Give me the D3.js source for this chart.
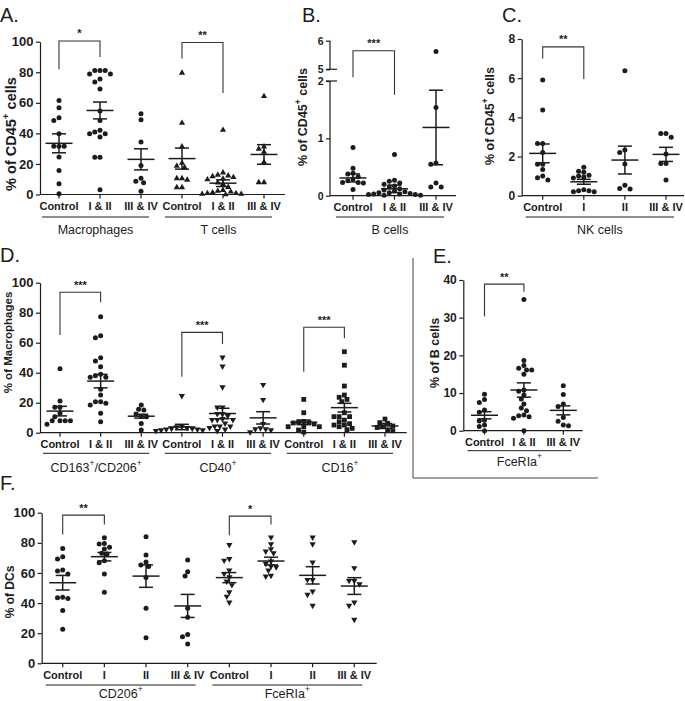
<!DOCTYPE html>
<html><head><meta charset="utf-8">
<script src="https://cdn.jsdelivr.net/npm/d3@7"></script>
<style>
body{margin:0;background:#fff;}
svg{display:block;font-family:"Liberation Sans",Arial,Helvetica,sans-serif;}
</style></head><body>
<svg id="c" width="685" height="701"></svg>
<script>
// ---------------- DATA ----------------
const stageAB = ["Control", "I & II", "III & IV"];
const stageCF = ["Control", "I", "II", "III & IV"];

// Panel A
const aGroups = ["Macrophages", "T cells"];
const aTicks = [0, 20, 40, 60, 80, 100];
const aMacroValues = [
  [61.6, 56.8, 50.3, 48.5, 39.8, 31.5, 31.5, 31.5, 24.5, 15.7, 7, 0.5],
  [81.1, 81.1, 81.1, 78.9, 78.9, 75.6, 73.7, 69.1, 54.6, 48.5, 42, 40.9, 39.8, 39.8, 37.6, 24.3, 24.3, 3.1],
  [52.9, 49, 34.3, 19, 10.7, 8.7, 7.7, 2.2]
];
const aMacroMean = [33.5, 55, 23];
const aMacroSem = [6.2, 5.5, 6.9];
const aTValues = [
  [79.8, 47, 31.5, 20.8, 18.8, 17.9, 10.7, 10.7, 9.8, 4.8, 4.8],
  [42.4, 14.5, 13, 12.5, 12, 11.5, 10.5, 10, 8, 7, 5, 3, 2.5, 2, 1.5, 1, 1, 0.5, 0.5, 0.2],
  [64.5, 31.5, 30, 28, 21.4, 8.1, 8.1]
];
const aTMean = [23.5, 7.4, 26.2];
const aTSem = [6.9, 2.2, 6.4];
const aBrackets = [
  {from: 0, to: 1, top: 100.5, left: 82, right: 90, label: "*"},
  {from: 3, to: 4, top: 99.5, left: 89, right: 66.5, label: "**"}
];

// Panel B
const bGroup = "B cells";
const bTicks = [0, 1, 2, 5, 6];
const bValues = [
  [0.84, 0.48, 0.39, 0.38, 0.33, 0.29, 0.26, 0.23, 0.23, 0.22, 0.11],
  [0.72, 0.27, 0.25, 0.22, 0.2, 0.17, 0.15, 0.12, 0.1, 0.08, 0.07, 0.05, 0.05, 0.04, 0.03, 0.03, 0.02, 0.02, 0.01, 0.01],
  [5.62, 1.54, 0.57, 0.55, 0.22, 0.15, 0.15]
];
const bMean = [0.31, 0.12, 1.19];
const bSem = [0.07, 0.065, 0.65];
const bBrackets = [{from: 0, to: 1, top: 5.65, left: 2.95, right: 1.76, label: "***"}];

// Panel C
const cGroup = "NK cells";
const cTicks = [0, 2, 4, 6, 8];
const cValues = [
  [5.91, 4.37, 2.67, 2.67, 2.2, 1.6, 1.6, 1.34, 1.0, 0.92, 0.8],
  [1.45, 1.25, 1.2, 1.05, 1.0, 0.95, 0.9, 0.3, 0.25, 0.25, 0.2, 0.2],
  [6.38, 2.33, 2.2, 1.62, 0.53, 0.37, 0.34],
  [3.18, 3.18, 2.98, 2.13, 1.65, 1.65, 0.8]
];
const cMean = [2.16, 0.71, 1.82, 2.11];
const cSem = [0.48, 0.125, 0.71, 0.36];
const cBrackets = [{from: 0, to: 1, top: 7.6, left: 7.0, right: 5.96, label: "**"}];

// Panel D
const dGroups = ["CD163^+/CD206^+", "CD40^+", "CD16^+"];
const dTicks = [0, 20, 40, 60, 80, 100];
const dCD163Values = [
  [42.7, 21.1, 16.9, 16.9, 12.9, 10.7, 8, 8, 8, 8, 5.6],
  [77.3, 64.7, 63.3, 50, 47.8, 44, 39, 38, 37, 36.9, 28.9, 25.1, 20.7, 20.7, 19.6, 18.4, 12.9, 7.3],
  [18.4, 15.6, 15.1, 12.5, 11, 10.7, 6.2, 1.8]
];
const dCD163Mean = [14.4, 34.4, 11];
const dCD163Sem = [3.2, 4.5, 1.3];
const dCD40Values = [
  [24.4, 4, 3.5, 3, 2.5, 2.5, 2, 2, 1.5, 1.5, 1],
  [50, 44, 30.2, 16.7, 16.7, 12.4, 12.4, 11, 9, 8.4, 8.4, 8.4, 6, 4, 4, 4, 3, 2, 1],
  [31.8, 21.8, 5.8, 2.9, 2.2, 2.2, 1.5, 0.2]
];
const dCD40Mean = [3.8, 12.8, 9.9];
const dCD40Sem = [1.8, 3.5, 4.1];
const dCD16Values = [
  [22.2, 13.3, 7.5, 7, 6.7, 6.5, 5.8, 4, 4, 4, 1.8, 0.4],
  [54, 45, 31.1, 25.1, 23.6, 22.2, 20.7, 13.3, 10.7, 10.7, 10.7, 8.4, 7.3, 6, 5.1, 5.1, 4, 2.9, 2],
  [9.1, 6.7, 6.2, 4.5, 4, 3.5, 1.8, 1.3]
];
const dCD16Mean = [6.9, 16.7, 4.5];
const dCD16Sem = [1.55, 2.9, 1.65];
const dBrackets = [
  {from: 0, to: 1, top: 93.6, left: 65.1, right: 86.9, label: "***"},
  {from: 3, to: 4, top: 66.9, left: 37.3, right: 59.1, label: "***"},
  {from: 6, to: 7, top: 70.3, left: 40.7, right: 62.9, label: "***"}
];

// Panel E
const eGroup = "FceRIa^+";
const eTicks = [0, 10, 20, 30, 40];
const eValues = [
  [9.7, 8.3, 7.5, 5.5, 4.9, 2.8, 2.6, 1.5, 1.1, 0],
  [34.8, 18.6, 17.3, 16.6, 16.1, 16.1, 15, 10.8, 10.5, 9.5, 8.4, 7.1, 6, 5.3, 4.2, 4, 3.7, 3.3, 0],
  [11.9, 9.6, 7.1, 6.4, 3.5, 2.5, 1.5, 1.3]
];
const eMean = [4.1, 10.8, 5.4];
const eSem = [0.95, 1.9, 1.2];
const eBrackets = [{from: 0, to: 1, top: 38.9, left: 30.3, right: 36.9, label: "**"}];

// Panel F
const fGroups = ["CD206^+", "FceRIa^+"];
const fTicks = [0, 20, 40, 60, 80, 100];
const fCD206Values = [
  [76.3, 70.8, 69.2, 61.9, 61.3, 59.3, 43.8, 43.6, 43.1, 35, 22.6],
  [83.4, 79.6, 79.2, 77, 75.9, 73, 72.6, 68.1, 66.8, 59.3, 47.1],
  [84.1, 71.9, 67.3, 65.3, 64.2, 56.9, 36.5, 17],
  [68.6, 60.8, 58, 36.5, 30.5, 19.2, 17.7, 12.8]
];
const fCD206Mean = [53.5, 70.8, 57.9, 38.1];
const fCD206Sem = [4.85, 2.8, 7.45, 7.65];
const fFceValues = [
  [78.5, 69.2, 68.1, 61.5, 59.3, 57, 54.2, 51.8, 47.1, 44.2, 40.3],
  [83.4, 79, 75.7, 74.1, 73, 67.5, 66, 64.2, 63.7, 61.5, 58, 57.5],
  [83.4, 79, 66.8, 55.3, 55.3, 47.6, 45.4, 38.1],
  [80.3, 63.1, 54.6, 54.6, 52.4, 40.3, 38.1, 28.8]
];
const fFceMean = [56.9, 67.9, 58.4, 51.3];
const fFceSem = [3.35, 2.55, 5.75, 5.55];
const fBrackets = [
  {from: 0, to: 1, top: 98.4, left: 85.6, right: 92.2, label: "**"},
  {from: 4, to: 5, top: 97.7, left: 85.1, right: 92.2, label: "*"}
];

// ---------------- DRAWING ----------------
const INK = "#1c1c1c";
const svg = d3.select("#c");

function rich(textSel, str, fs) {
  const parts = str.split(/(\^.)/).filter(s => s.length);
  let raised = false;
  parts.forEach(pt => {
    if (pt[0] === "^") {
      textSel.append("tspan").attr("dy", -0.42 * fs).attr("font-size", 0.68 * fs).text(pt.slice(1));
      raised = true;
    } else {
      const t = textSel.append("tspan").text(pt);
      if (raised) { t.attr("dy", 0.42 * fs); raised = false; }
    }
  });
}

function swarm(vals, y, s) {
  const pts = vals.map(v => ({v, py: y(v)})).sort((a, b) => a.py - b.py);
  const placed = [];
  pts.forEach(p => {
    for (let k = 0; k < 80; k++) {
      const off = k === 0 ? 0 : (k % 2 ? -1 : 1) * Math.ceil(k / 2) * s / 2;
      if (placed.every(q => (q.dx - off) ** 2 + (q.py - p.py) ** 2 >= (s * 0.92) ** 2)) { p.dx = off; break; }
    }
    placed.push(p);
  });
  return placed;
}

function drawMarker(g, type, x, y) {
  if (type === "circle") {
    g.append("circle").attr("cx", x).attr("cy", y).attr("r", 2.5).attr("fill", INK);
  } else if (type === "triUp") {
    g.append("path").attr("d", `M${x},${y - 3.3}L${x + 3.1},${y + 2.1}L${x - 3.1},${y + 2.1}Z`).attr("fill", INK);
  } else if (type === "triDown") {
    g.append("path").attr("d", `M${x},${y + 3.3}L${x + 3.1},${y - 2.1}L${x - 3.1},${y - 2.1}Z`).attr("fill", INK);
  } else {
    g.append("rect").attr("x", x - 2.4).attr("y", y - 2.4).attr("width", 4.8).attr("height", 4.8).attr("fill", INK);
  }
}

function drawPanel(p) {
  const g = svg.append("g");
  const slots = [];
  p.series.forEach((s, si) => s.cats.forEach((c, ci) => slots.push(si + "|" + ci)));
  const x = d3.scalePoint().domain(slots).range([p.catFirst, p.catLast]);
  const y = p.y;
  const y0 = y(0);

  // y axis
  const ya = g.append("g").attr("transform", `translate(${p.axisX},0)`)
    .call(d3.axisLeft(y).tickValues(p.ticks).tickSize(4).tickSizeOuter(0).tickPadding(2.5).tickFormat(d3.format("d")));
  ya.selectAll("line,path").attr("stroke", INK).attr("stroke-width", 1.2);
  ya.selectAll("text").attr("fill", INK).attr("font-size", p.tickFont).attr("font-weight", "bold")
    .attr("font-family", "'Liberation Sans',Arial,sans-serif");
  if (p.broken) {
    ya.select(".domain").remove();
    g.append("line").attr("x1", p.axisX).attr("x2", p.axisX).attr("y1", y(0)).attr("y2", y(p.broken[0])).attr("stroke", INK).attr("stroke-width", 1.2);
    g.append("line").attr("x1", p.axisX).attr("x2", p.axisX).attr("y1", y(p.broken[1])).attr("y2", y(p.ticks[p.ticks.length - 1])).attr("stroke", INK).attr("stroke-width", 1.2);
    p.broken.forEach(b => g.append("line").attr("x1", p.axisX - 4).attr("x2", p.axisX + 7).attr("y1", y(b)).attr("y2", y(b)).attr("stroke", INK).attr("stroke-width", 1.2));
  }

  // x axis
  g.append("line").attr("x1", p.axisX).attr("x2", p.axisEnd).attr("y1", y0).attr("y2", y0).attr("stroke", INK).attr("stroke-width", 1.2);
  p.series.forEach((s, si) => {
    s.cats.forEach((c, ci) => {
      const cx = x(si + "|" + ci);
      g.append("line").attr("x1", cx).attr("x2", cx).attr("y1", y0).attr("y2", y0 + 4).attr("stroke", INK).attr("stroke-width", 1.2);
      g.append("text").attr("x", cx).attr("y", y0 + 11.5).attr("text-anchor", "middle").attr("dominant-baseline", "central")
        .attr("font-size", 11).attr("font-weight", "bold").attr("fill", INK).text(c);
    });
    // group line and label
    const gx1 = x(si + "|0") - 17, gx2 = x(si + "|" + (s.cats.length - 1)) + 8;
    g.append("line").attr("x1", gx1).attr("x2", gx2).attr("y1", p.lineY).attr("y2", p.lineY).attr("stroke", INK).attr("stroke-width", 1);
    const t = g.append("text").attr("x", (gx1 + gx2) / 2).attr("y", p.groupY).attr("text-anchor", "middle")
      .attr("dominant-baseline", "central").attr("font-size", 12.5).attr("fill", INK);
    rich(t, s.name, 12.5);

    // points, mean, SEM
    s.values.forEach((vals, ci) => {
      const cx = x(si + "|" + ci);
      swarm(vals, y, 5.2).forEach(pt => drawMarker(g, s.marker, cx + pt.dx, pt.py));
      const m = s.mean[ci], e = s.sem[ci];
      const L = (x1, x2, y1, y2) => g.append("line").attr("x1", x1).attr("x2", x2).attr("y1", y1).attr("y2", y2)
        .attr("stroke", INK).attr("stroke-width", 1.5);
      L(cx - 13.5, cx + 13.5, y(m), y(m));
      L(cx - 7, cx + 7, y(m + e), y(m + e));
      L(cx - 7, cx + 7, y(m - e), y(m - e));
      L(cx, cx, y(m + e), y(m - e));
    });
  });

  // significance brackets
  p.brackets.forEach(b => {
    const x1 = x(slots[b.from]), x2 = x(slots[b.to]);
    g.append("path").attr("d", `M${x1},${y(b.left)}V${y(b.top)}H${x2}V${y(b.right)}`)
      .attr("fill", "none").attr("stroke", "#333").attr("stroke-width", 1.1);
    g.append("text").attr("x", (x1 + x2) / 2).attr("y", y(b.top) - 3.5).attr("text-anchor", "middle")
      .attr("font-size", 11).attr("font-weight", "bold").attr("fill", INK).text(b.label);
  });

  // y title
  const tt = g.append("text").attr("transform", `translate(${p.titleX},${p.titleY}) rotate(-90)`)
    .attr("text-anchor", "middle").attr("dominant-baseline", "central")
    .attr("font-size", p.titleFont).attr("font-weight", "bold").attr("fill", INK);
  rich(tt, p.title, p.titleFont);

  // panel letter
  g.append("text").attr("x", p.letterX).attr("y", p.letterY).attr("font-size", 20).attr("fill", INK).text(p.letter);
}

const lin = (d, r) => d3.scaleLinear().domain(d).range(r);

drawPanel({
  letter: "A.", letterX: 0, letterY: 22,
  axisX: 40, axisEnd: 285, y: lin([0, 100], [194.5, 41.7]), ticks: aTicks, tickFont: 13,
  catFirst: 59, catLast: 264,
  series: [
    {name: aGroups[0], cats: stageAB, values: aMacroValues, mean: aMacroMean, sem: aMacroSem, marker: "circle"},
    {name: aGroups[1], cats: stageAB, values: aTValues, mean: aTMean, sem: aTSem, marker: "triUp"}
  ],
  brackets: aBrackets, title: "% of CD45^+ cells", titleX: 11, titleY: 134, titleFont: 14.5,
  lineY: 217, groupY: 229.5
});

drawPanel({
  letter: "B.", letterX: 302, letterY: 22,
  axisX: 330, axisEnd: 456, y: lin([0, 2, 5, 6], [195.7, 81, 69.3, 40.7]), ticks: bTicks, tickFont: 10.5, broken: [2, 5],
  catFirst: 353, catLast: 436,
  series: [{name: bGroup, cats: stageAB, values: bValues, mean: bMean, sem: bSem, marker: "circle"}],
  brackets: bBrackets, title: "% of CD45^+ cells", titleX: 303, titleY: 117, titleFont: 12.5,
  lineY: 217, groupY: 229.5
});

drawPanel({
  letter: "C.", letterX: 502, letterY: 22,
  axisX: 521.7, axisEnd: 684, y: lin([0, 8], [195.7, 39]), ticks: cTicks, tickFont: 12,
  catFirst: 542.7, catLast: 666,
  series: [{name: cGroup, cats: stageCF, values: cValues, mean: cMean, sem: cSem, marker: "circle"}],
  brackets: cBrackets, title: "% of CD45^+ cells", titleX: 490, titleY: 116, titleFont: 12.5,
  lineY: 217, groupY: 229.5
});

drawPanel({
  letter: "D.", letterX: 0, letterY: 262,
  axisX: 40, axisEnd: 406.7, y: lin([0, 100], [432.7, 282.7]), ticks: dTicks, tickFont: 13,
  catFirst: 60, catLast: 385,
  series: [
    {name: dGroups[0], cats: stageAB, values: dCD163Values, mean: dCD163Mean, sem: dCD163Sem, marker: "circle"},
    {name: dGroups[1], cats: stageAB, values: dCD40Values, mean: dCD40Mean, sem: dCD40Sem, marker: "triDown"},
    {name: dGroups[2], cats: stageAB, values: dCD16Values, mean: dCD16Mean, sem: dCD16Sem, marker: "square"}
  ],
  brackets: dBrackets, title: "% of Macrophages", titleX: 8, titleY: 342.5, titleFont: 11.5,
  lineY: 453.3, groupY: 468
});

drawPanel({
  letter: "E.", letterX: 433, letterY: 263,
  axisX: 463.3, axisEnd: 582.7, y: lin([0, 40], [430.7, 280]), ticks: eTicks, tickFont: 12,
  catFirst: 484.5, catLast: 563.3,
  series: [{name: eGroup, cats: stageAB, values: eValues, mean: eMean, sem: eSem, marker: "circle"}],
  brackets: eBrackets, title: "% of B cells", titleX: 435, titleY: 353, titleFont: 12.5,
  lineY: 450.7, groupY: 461.7
});

drawPanel({
  letter: "F.", letterX: 0, letterY: 490,
  axisX: 41.7, axisEnd: 376.7, y: lin([0, 100], [663.3, 512.7]), ticks: fTicks, tickFont: 13,
  catFirst: 62.7, catLast: 354.3,
  series: [
    {name: fGroups[0], cats: stageCF, values: fCD206Values, mean: fCD206Mean, sem: fCD206Sem, marker: "circle"},
    {name: fGroups[1], cats: stageCF, values: fFceValues, mean: fFceMean, sem: fFceSem, marker: "triDown"}
  ],
  brackets: fBrackets, title: "% of DCs", titleX: 10, titleY: 592, titleFont: 12,
  lineY: 685, groupY: 694
});

// frame around panel E
svg.append("path").attr("d", "M413,258V478H598").attr("fill", "none").attr("stroke", "#444").attr("stroke-width", 1);
</script>
</body></html>
